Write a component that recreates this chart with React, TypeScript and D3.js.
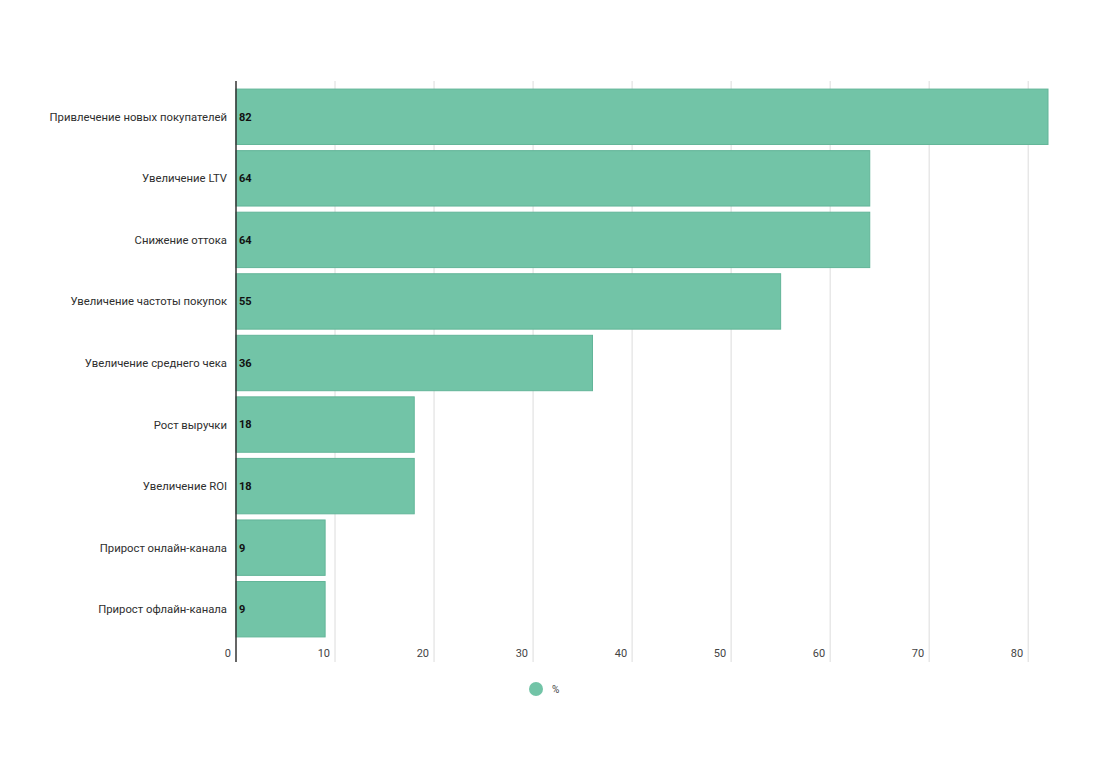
import * as d3 from "d3";

const categories = [
  "Привлечение новых покупателей",
  "Увеличение LTV",
  "Снижение оттока",
  "Увеличение частоты покупок",
  "Увеличение среднего чека",
  "Рост выручки",
  "Увеличение ROI",
  "Прирост онлайн-канала",
  "Прирост офлайн-канала",
];
const values = [82, 64, 64, 55, 36, 18, 18, 9, 9];
const xTicks = [0, 10, 20, 30, 40, 50, 60, 70, 80];
const seriesName = "%";

const W = 1100;
const H = 762;
const FILL = "#72c4a7";
const STROKE = "#62b598";

export default function App() {
  const x = d3.scaleLinear().domain([0, 82]).range([236, 1048]);
  const y = d3
    .scaleBand<string>()
    .domain(categories)
    .range([86, 640])
    .paddingInner(0.1)
    .paddingOuter(0.05);

  const gridTop = 81;
  const gridBottom = 662;

  return (
    <>
      <style>{"body{margin:0}"}</style>
      <svg width={W} height={H} style={{ display: "block", fontFamily: "Roboto, 'Noto Sans', sans-serif" }}>
        <rect width={W} height={H} fill="#fff" />

        {/* Vertical grid lines + tick labels */}
        {xTicks.map((t) => (
          <g key={t}>
            {t > 0 && (
              <line x1={x(t)} x2={x(t)} y1={gridTop} y2={gridBottom} stroke="#dcdcdc" strokeWidth={1} />
            )}
            <text x={x(t) - 5} y={653} dy="0.35em" textAnchor="end" fontSize={11} fill="#444">
              {t}
            </text>
          </g>
        ))}

        {/* Bars */}
        {categories.map((c, i) => (
          <g key={c}>
            <rect
              x={x(0)}
              y={y(c)}
              width={x(values[i]) - x(0)}
              height={y.bandwidth()}
              fill={FILL}
              stroke={STROKE}
              strokeWidth={1}
            />
            <text
              x={x(0) + 3}
              y={(y(c) ?? 0) + y.bandwidth() / 2}
              dy="0.35em"
              fontSize={11}
              fontWeight={700}
              fill="#111"
            >
              {values[i]}
            </text>
            <text
              x={227}
              y={(y(c) ?? 0) + y.bandwidth() / 2}
              dy="0.35em"
              textAnchor="end"
              fontSize={11.3}
              fill="#2e2e2e"
            >
              {c}
            </text>
          </g>
        ))}

        {/* Axis line */}
        <line x1={x(0)} x2={x(0)} y1={gridTop} y2={gridBottom} stroke="#333" strokeWidth={1.5} />

        {/* Legend */}
        <circle cx={536} cy={689} r={7} fill={FILL} />
        <text x={552} y={689} dy="0.35em" fontSize={10} fill="#444">
          {seriesName}
        </text>
      </svg>
    </>
  );
}
